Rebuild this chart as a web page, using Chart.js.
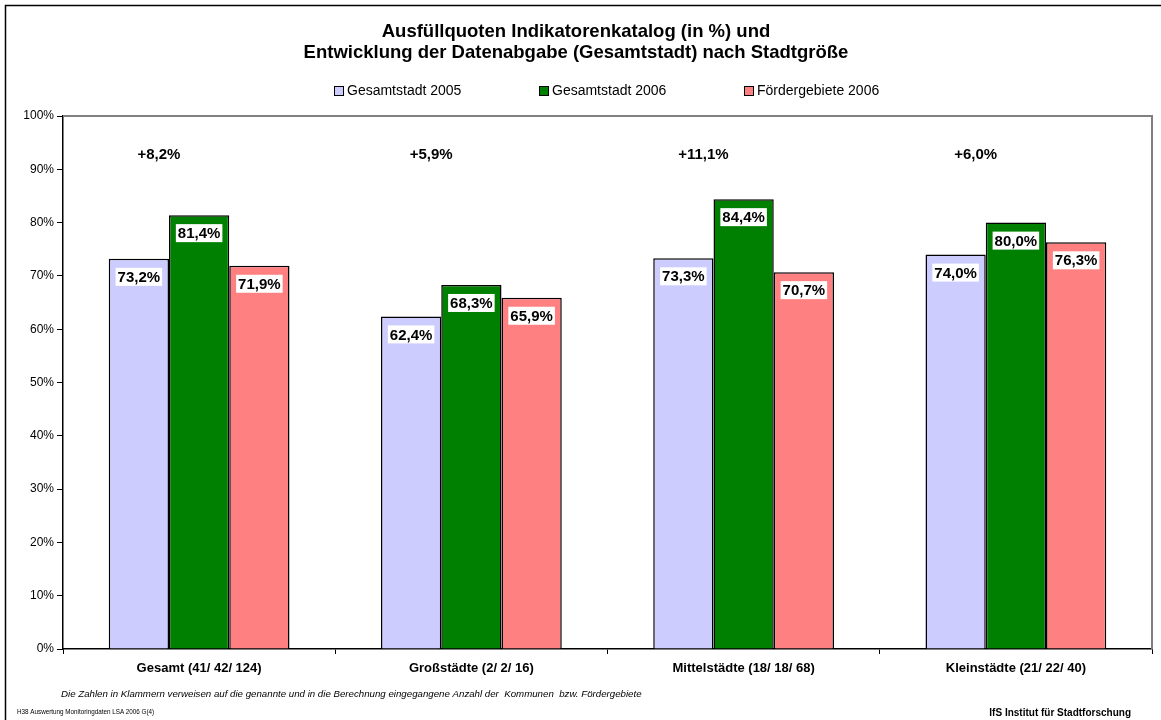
<!DOCTYPE html>
<html>
<head>
<meta charset="utf-8">
<script src="https://cdn.jsdelivr.net/npm/chart.js@4"></script>
<style>
    html, body { margin: 0; padding: 0; background: #fff; }
    #wrap { position: relative; width: 1161px; height: 720px; overflow: hidden; }
</style>
</head>
<body>
<div id="wrap"><canvas id="chart" width="1161" height="720"></canvas></div>
<script>
// Werte je Stadtgröße (Ausfüllquote in %)
const categories = ['Gesamt (41/ 42/ 124)', 'Großstädte (2/ 2/ 16)', 'Mittelstädte (18/ 18/ 68)', 'Kleinstädte (21/ 22/ 40)'];
const seriesNames = ['Gesamtstadt 2005', 'Gesamtstadt 2006', 'Fördergebiete 2006'];
const gesamt2005 = [73.2, 62.4, 73.3, 74.0];
const gesamt2006 = [81.4, 68.3, 84.4, 80.0];
const foerder2006 = [71.9, 65.9, 70.7, 76.3];
const yTicks = [0, 10, 20, 30, 40, 50, 60, 70, 80, 90, 100];

const colors = ['#CCCCFF', '#008000', '#FF8080'];
const FONT = 'Liberation Sans, Arial, sans-serif';

function fmt(v) {
    return v.toFixed(1).replace('.', ',') + '%';
}

// Rahmen, Legende, Wertelabels und Fußnoten
const extras = {
    id: 'extras',
    beforeDraw(chart) {
        const ctx = chart.ctx;
        ctx.save();
        ctx.fillStyle = '#fff';
        ctx.fillRect(0, 0, chart.width, chart.height);
        ctx.strokeStyle = '#000';
        ctx.lineWidth = 1.5;
        ctx.strokeRect(5.5, 5.5, 1300, 900);
        ctx.restore();
    },
    afterDatasetsDraw(chart) {
        const ctx = chart.ctx;
        const y = chart.scales.y;
        ctx.save();
        ctx.font = 'bold 15px ' + FONT;
        ctx.textAlign = 'center';
        ctx.textBaseline = 'middle';
        chart.data.datasets.forEach(function(ds, di) {
            chart.getDatasetMeta(di).data.forEach(function(bar, i) {
                const txt = fmt(ds.data[i]);
                const w = ctx.measureText(txt).width + 4;
                const cy = bar.y + 18;
                ctx.fillStyle = '#fff';
                ctx.fillRect(bar.x - w / 2, cy - 9, w, 18);
                ctx.fillStyle = '#000';
                ctx.fillText(txt, bar.x, cy + 1);
            });
        });
        // Zuwachs 2005 -> 2006
        const first = chart.getDatasetMeta(0).data;
        first.forEach(function(bar, i) {
            const diff = gesamt2006[i] - gesamt2005[i];
            ctx.fillText('+' + fmt(diff), bar.x + 20, y.getPixelForValue(92.7));
        });
        ctx.restore();
    },
    afterDraw(chart) {
        const ctx = chart.ctx;
        const a = chart.chartArea;
        ctx.save();
        // graue Begrenzung oben und rechts
        ctx.strokeStyle = '#808080';
        ctx.lineWidth = 2;
        ctx.beginPath();
        ctx.moveTo(a.left, a.top);
        ctx.lineTo(a.right, a.top);
        ctx.lineTo(a.right, a.bottom);
        ctx.stroke();

        // Legende
        ctx.font = '14px ' + FONT;
        ctx.textBaseline = 'middle';
        ctx.textAlign = 'left';
        seriesNames.forEach(function(name, i) {
            const x = 334 + i * 205;
            ctx.fillStyle = colors[i];
            ctx.fillRect(x, 86, 9, 9);
            ctx.strokeStyle = '#000';
            ctx.lineWidth = 1;
            ctx.strokeRect(x + 0.5, 86.5, 9, 9);
            ctx.fillStyle = '#000';
            ctx.fillText(name, x + 13, 91);
        });

        // Fußnoten
        ctx.font = 'italic 9.7px ' + FONT;
        ctx.fillText('Die Zahlen in Klammern verweisen auf die genannte und in die Berechnung eingegangene Anzahl der  Kommunen  bzw. Fördergebiete', 61, 694);
        ctx.font = '6.3px ' + FONT;
        ctx.fillText('H38 Auswertung Monitoringdaten LSA 2006 G(4)', 17, 712);
        ctx.font = 'bold 10px ' + FONT;
        ctx.textAlign = 'right';
        ctx.fillText('IfS Institut für Stadtforschung', 1131, 713);
        ctx.restore();
    }
};

const datasets = [gesamt2005, gesamt2006, foerder2006].map(function(values, i) {
    return {
        label: seriesNames[i],
        data: values,
        backgroundColor: colors[i],
        borderColor: '#000',
        borderWidth: 1.5,
        categoryPercentage: 0.664,
        barPercentage: 1.0
    };
});

new Chart(document.getElementById('chart'), {
    type: 'bar',
    data: { labels: categories, datasets: datasets },
    plugins: [extras],
    options: {
        responsive: false,
        animation: false,
        layout: { padding: { top: 0, right: 9, bottom: 0, left: 0 } },
        plugins: {
            legend: { display: false },
            tooltip: { enabled: false },
            title: {
                display: true,
                text: ['Ausfüllquoten Indikatorenkatalog (in %) und', 'Entwicklung der Datenabgabe (Gesamtstadt) nach Stadtgröße'],
                color: '#000',
                font: { family: FONT, size: 18.5, weight: 'bold', lineHeight: '21px' },
                padding: { top: 21.5, bottom: 52.5 }
            }
        },
        scales: {
            x: {
                grid: { offset: true, drawOnChartArea: false, tickLength: 5, color: '#000' },
                border: { color: '#000', width: 1.5 },
                ticks: { color: '#000', font: { family: FONT, size: 13, weight: 'bold' }, padding: 7, maxRotation: 0 },
                afterFit: function(s) { s.height = 71; }
            },
            y: {
                min: 0,
                max: 100,
                afterBuildTicks: function(s) { s.ticks = yTicks.map(function(v) { return { value: v }; }); },
                grid: { drawOnChartArea: false, tickLength: 6, color: '#000' },
                border: { color: '#000', width: 1.5 },
                ticks: { color: '#000', font: { family: FONT, size: 12 }, padding: 3, callback: function(v) { return v + '%'; } },
                afterFit: function(s) { s.width = 63; }
            }
        }
    }
});
</script>
</body>
</html>
